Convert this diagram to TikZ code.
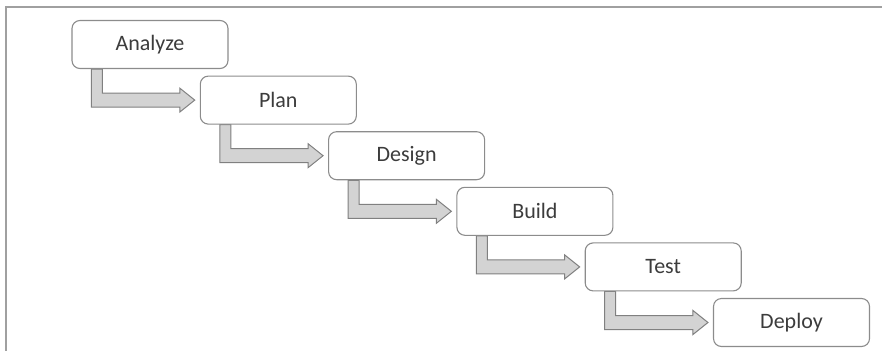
\documentclass[tikz,border=0pt]{standalone}
\usepackage{fontspec}
\setmainfont{Carlito}
\usetikzlibrary{calc,backgrounds}
\definecolor{boxline}{HTML}{8C8C8C}
\definecolor{txt}{HTML}{3C3C3C}
\definecolor{arrline}{HTML}{808080}
\definecolor{arrfill}{HTML}{D3D3D3}
\definecolor{frame}{HTML}{A0A0A0}
\tikzset{
  stagebox/.style={draw=boxline, line width=1.1pt, rounded corners=8pt, fill=white,
    minimum width=156pt, minimum height=48pt, inner sep=0pt,
    text=txt, font=\fontsize{22}{26}\selectfont},
  elbow/.style={draw=arrline, line width=1pt, fill=arrfill, line join=miter},
  framel/.style={draw=frame, line width=2pt}
}
\begin{document}
\begin{tikzpicture}[x=1pt,y=1pt]
\useasboundingbox (0,0) rectangle (882,-351);
\draw[framel] (5,-7) -- (882,-7);
\draw[framel] (6,-7) -- (6,-351);
\node[stagebox] (a) at (150,-44.5) {Analyze};
\node[stagebox] (b) at (278.3,-100.1) {Plan};
\node[stagebox] (c) at (406.6,-155.7) {Design};
\node[stagebox] (d) at (534.9,-211.3) {Build};
\node[stagebox] (e) at (663.2,-266.9) {Test};
\node[stagebox] (f) at (791.5,-322.5) {Deploy};
\begin{scope}[on background layer]
\foreach \s/\t in {a/b,b/c,c/d,d/e,e/f}{
  \draw[elbow] let \p1=(\s.south west), \p2=(\t.west) in
    (\x1+20pt,\y1) -- (\x1+20pt,\y2-7pt) -- (\x2-20pt,\y2-7pt) -- (\x2-20pt,\y2-12pt)
    -- (\x2-5pt,\y2) -- (\x2-20pt,\y2+12pt) -- (\x2-20pt,\y2+7pt) -- (\x1+31pt,\y2+7pt)
    -- (\x1+31pt,\y1) -- cycle;
}
\end{scope}
\end{tikzpicture}
\end{document}
